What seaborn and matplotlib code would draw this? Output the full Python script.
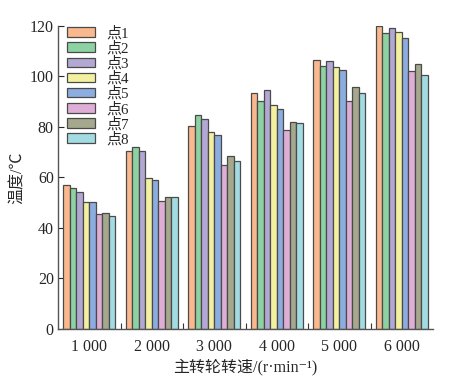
import numpy as np
import matplotlib
matplotlib.use("Agg")
import matplotlib.pyplot as plt
import seaborn as sns
import pandas as pd
from matplotlib.ticker import FixedLocator

speeds = ["1 000", "2 000", "3 000", "4 000", "5 000", "6 000"]
points = ["点1", "点2", "点3", "点4", "点5", "点6", "点7", "点8"]

# temperature per point, one list per point, ordered by speed
p1 = [57.0, 70.6, 80.4, 93.3, 106.4, 120.0]
p2 = [55.7, 72.2, 84.8, 90.4, 104.0, 117.1]
p3 = [54.4, 70.6, 83.3, 94.8, 106.3, 119.0]
p4 = [50.4, 59.7, 77.9, 88.5, 103.6, 117.8]
p5 = [50.2, 58.9, 76.7, 87.1, 102.4, 115.4]
p6 = [45.4, 50.7, 64.8, 78.6, 90.2, 102.2]
p7 = [45.8, 52.2, 68.7, 81.8, 96.0, 104.8]
p8 = [44.8, 52.2, 66.5, 81.4, 93.3, 100.6]

colors = ["#F9B88E", "#8DD2A2", "#B3A8D4", "#F3F1A0",
          "#8CADE0", "#DFAED6", "#A5A88D", "#A2DCE2"]


def main():
    sns.set_style("ticks")
    plt.rcParams['font.family'] = ['Liberation Serif', 'Noto Sans CJK SC', 'DejaVu Sans']

    series = [p1, p2, p3, p4, p5, p6, p7, p8]
    rows = []
    for name, vals in zip(points, series):
        for s, v in zip(speeds, vals):
            rows.append({"speed": s, "point": name, "temp": v})
    df = pd.DataFrame(rows)

    fig = plt.figure(figsize=(4.51, 3.76), dpi=100)
    ax = fig.add_axes([0.1286, 0.125, 0.8316, 0.806])

    sns.barplot(data=df, x="speed", y="temp", hue="point", order=speeds,
                hue_order=points, palette=colors, width=0.83,
                edgecolor="#4a4a4a", linewidth=0.9, saturation=1, ax=ax)

    ax.set_ylim(0, 120)
    ax.set_xlim(-0.5, len(speeds) - 0.5)
    ax.set_yticks(np.arange(0, 121, 20))
    ax.xaxis.set_minor_locator(FixedLocator(np.arange(0.5, len(speeds) - 0.5, 1)))
    ax.tick_params(axis='x', which='major', length=0, labelsize=11.5, pad=7)
    ax.tick_params(axis='x', which='minor', direction='in', length=4, width=0.8, color='#333333')
    ax.tick_params(axis='y', direction='in', length=4, width=0.8, labelsize=11.5, pad=3)
    for sp in ['top', 'right']:
        ax.spines[sp].set_visible(False)
    for sp in ['left', 'bottom']:
        ax.spines[sp].set_color('#555555')
        ax.spines[sp].set_linewidth(1.0)

    ax.set_xlabel("主转轮转速/(r·min⁻¹)", fontsize=11.5, labelpad=3)
    ax.set_ylabel("温度/℃", fontsize=11.5, labelpad=3)

    ax.legend(loc='upper left', bbox_to_anchor=(0.0, 1.03), frameon=False,
              fontsize=10.8, handlelength=1.9, handleheight=0.6,
              labelspacing=0.05, handletextpad=0.75, borderaxespad=0.2)

    fig.savefig("out.png", dpi=100)


if __name__ == "__main__":
    main()
